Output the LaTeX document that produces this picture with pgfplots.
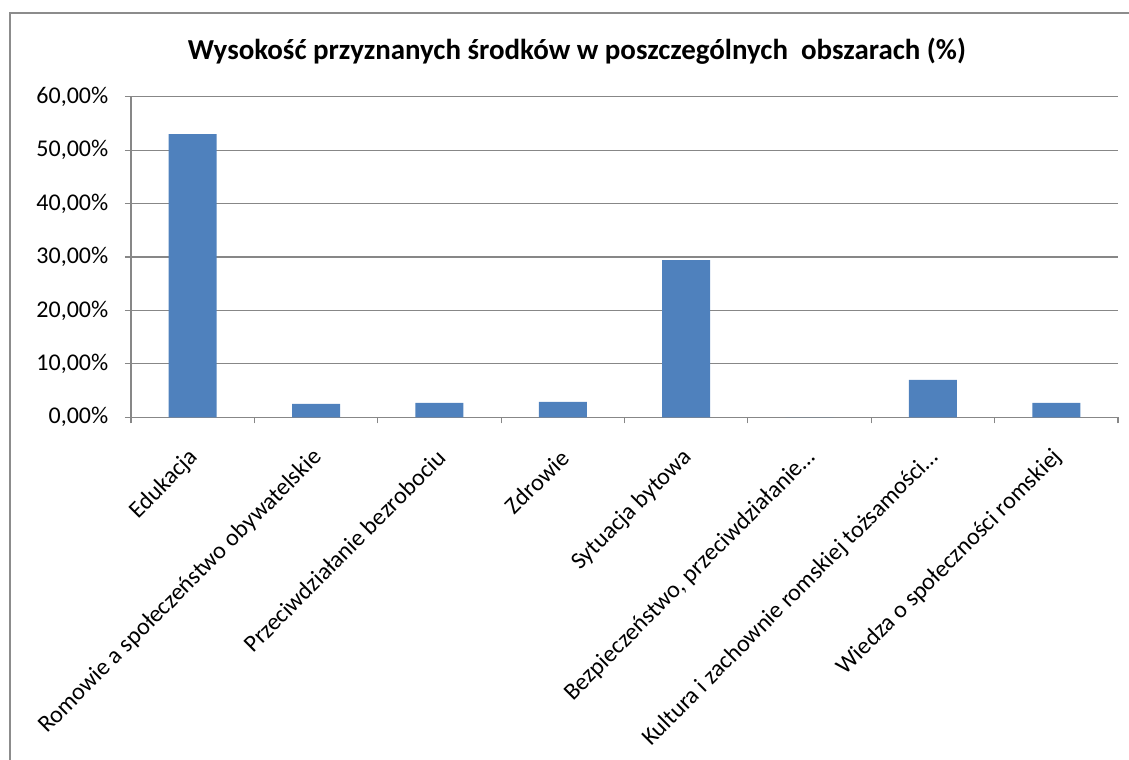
\documentclass[border=0pt]{standalone}
\usepackage{pgfplots}
\pgfplotsset{compat=1.18}
\usepackage{fontspec}
\setmainfont{Carlito}
\definecolor{barblue}{HTML}{4F81BD}
\definecolor{gridgray}{HTML}{878787}
\definecolor{framegray}{HTML}{8C8C8C}
\begin{document}
\begin{tikzpicture}
\path[use as bounding box] (0,0) rectangle (846.75pt,570pt);
\draw[framegray, line width=1.4pt] (7.5pt,-2pt) -- (7.5pt,560.25pt) -- (850pt,560.25pt);
\node[font=\fontsize{21.7}{26}\selectfont\bfseries] at (432.75pt,531.5pt) {Wysokość przyznanych środków w poszczególnych\ \ obszarach (\%)};
\begin{axis}[
  at={(98.25pt,257pt)}, anchor=south west,
  scale only axis, width=740.25pt, height=240.5pt,
  xmin=-0.5, xmax=7.5, ymin=0, ymax=60,
  axis lines=left, axis line style={-, gridgray, line width=0.8pt},
  ybar, bar width=36pt,
  ytick={0,10,...,60},
  yticklabels={{0,00\%},{10,00\%},{20,00\%},{30,00\%},{40,00\%},{50,00\%},{60,00\%}},
  ymajorgrids, grid style={gridgray, line width=0.8pt},
  tick align=outside, major tick length=4.5pt,
  tick style={gridgray, line width=0.8pt},
  xtick={-0.5,0.5,...,7.5}, xticklabels={},
  extra x ticks={0,1,2,3,4,5,6,7},
  extra x tick labels={Edukacja,Romowie a społeczeństwo obywatelskie,Przeciwdziałanie bezrobociu,Zdrowie,Sytuacja bytowa,Bezpieczeństwo{,} przeciwdziałanie…,Kultura i zachownie romskiej tożsamości…,Wiedza o społeczności romskiej},
  extra x tick style={major tick length=0pt, grid=none,
     xticklabel style={yshift=-25pt, xshift=4pt, rotate=45, anchor=east}},
  ticklabel style={font=\fontsize{18}{22}\selectfont},
  yticklabel style={xshift=-9pt},
  enlarge x limits=false,
  clip=false,
]
\addplot[fill=barblue, draw=none] coordinates {(0,53.0) (1,2.5) (2,2.7) (3,2.9) (4,29.4) (5,0) (6,7.0) (7,2.7)};
\end{axis}
\end{tikzpicture}
\end{document}
